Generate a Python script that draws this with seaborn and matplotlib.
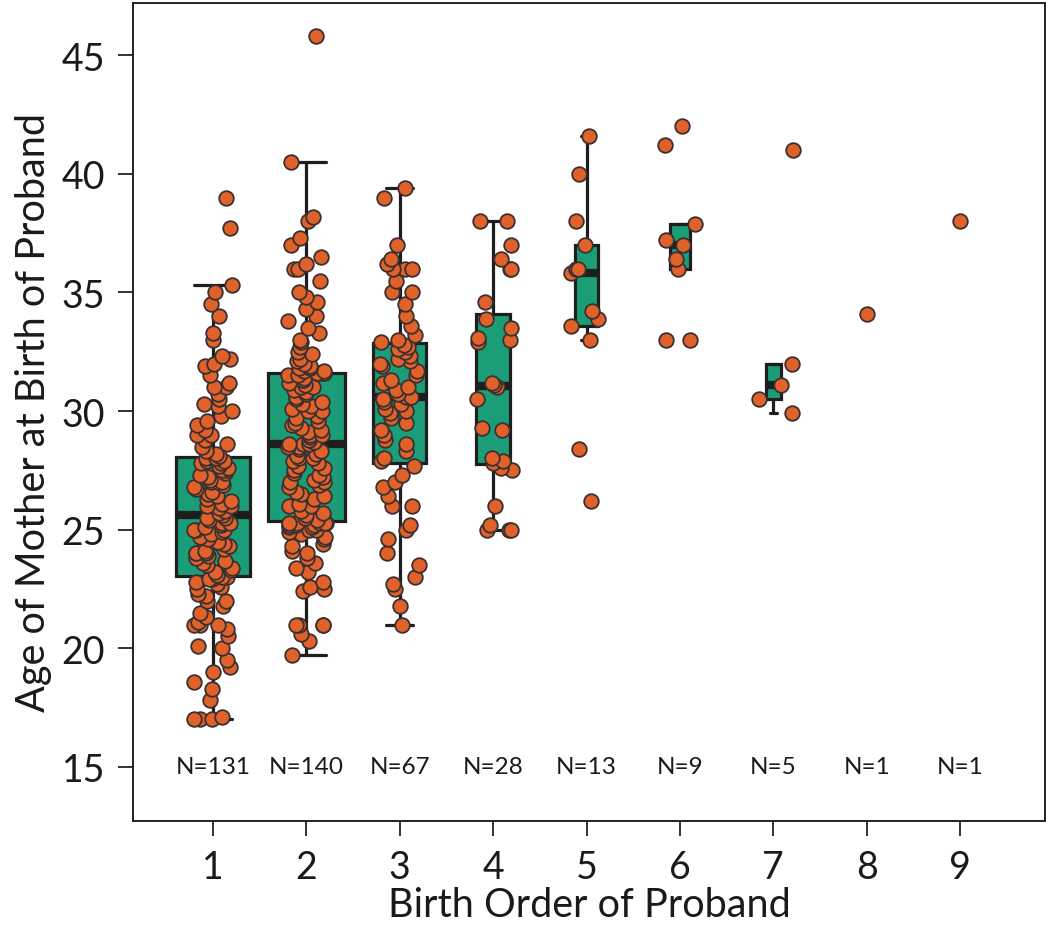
import numpy as np
import pandas as pd
import matplotlib
matplotlib.use("Agg")
import matplotlib.pyplot as plt
import seaborn as sns

# ---------------- data ----------------
categories = ["1", "2", "3", "4", "5", "6", "7", "8", "9"]
n_labels = ["N=131", "N=140", "N=67", "N=28", "N=13", "N=9", "N=5", "N=1", "N=1"]

ages_1 = [17.0, 17.0, 17.0, 17.1, 17.8, 18.3, 18.6, 19.0, 19.2, 19.5,
          20.0, 20.1, 20.5, 20.8, 21.0, 21.0, 21.0, 21.1, 21.3, 21.5,
          21.8, 22.0, 22.0, 22.2, 22.3, 22.5, 22.6, 22.7, 22.8, 22.9,
          22.9, 23.0, 23.0,
          23.1, 23.2, 23.3, 23.4, 23.5, 23.6, 23.7, 23.8, 23.9, 24.0,
          24.0, 24.0, 24.1, 24.2, 24.3, 24.4, 24.5, 24.5, 24.6, 24.7,
          24.8, 24.9, 25.0, 25.0, 25.0, 25.1, 25.2, 25.3, 25.3, 25.4,
          25.5, 25.5,
          25.6,
          25.7, 25.8, 25.9, 26.0, 26.0, 26.1, 26.2, 26.3, 26.4, 26.5,
          26.6, 26.7, 26.8, 26.9, 27.0, 27.0, 27.0, 27.1, 27.2, 27.3,
          27.4, 27.5, 27.5, 27.6, 27.7, 27.8, 27.8, 27.9, 27.9, 28.0,
          28.0, 28.0,
          28.1, 28.2, 28.3, 28.5, 28.6, 28.8, 29.0, 29.0, 29.2, 29.4,
          29.6, 29.8, 30.0, 30.2, 30.3, 30.5, 30.7, 31.0, 31.0, 31.2,
          31.5, 31.9, 32.0, 32.2, 32.3, 33.0, 33.3, 34.0, 34.5, 35.0,
          35.3, 37.7, 39.0]

ages_2 = [19.7, 20.3, 20.6, 21.0, 21.0, 21.0, 21.0, 22.4, 22.5, 22.6,
          22.8, 23.2, 23.4, 23.6, 23.8, 24.0, 24.1, 24.3, 24.4, 24.6,
          24.7, 24.8, 24.9, 25.0, 25.0, 25.1, 25.1, 25.2, 25.2, 25.2,
          25.3, 25.3, 25.3, 25.3, 25.3,
          25.4, 25.5, 25.6, 25.7, 25.8, 26.0, 26.0, 26.1, 26.3, 26.4,
          26.5, 26.6, 26.8, 26.9, 27.0, 27.0, 27.1, 27.2, 27.3, 27.4,
          27.5, 27.6, 27.7, 27.8, 27.9, 28.0, 28.0, 28.1, 28.2, 28.3,
          28.4, 28.5, 28.5, 28.6, 28.6,
          28.6, 28.7, 28.8, 28.9, 29.0, 29.0, 29.1, 29.2, 29.3, 29.4,
          29.5, 29.6, 29.7, 29.8, 30.0, 30.0, 30.1, 30.2, 30.3, 30.4,
          30.5, 30.6, 30.7, 30.8, 30.9, 31.0, 31.0, 31.1, 31.2, 31.3,
          31.3, 31.4, 31.5, 31.5, 31.6,
          31.6, 31.6, 31.6, 31.7, 31.7, 31.8, 31.8, 31.9, 32.0, 32.1,
          32.2, 32.4, 32.5, 32.7, 32.9, 33.0, 33.3, 33.5, 33.8, 34.0,
          34.3, 34.6, 34.8, 35.0, 35.5, 36.0, 36.0, 36.2, 36.5, 37.0,
          37.3, 38.0, 38.2, 40.5, 45.8]

ages_3 = [21.0, 21.8, 22.5, 22.7, 23.0, 23.5, 24.0, 24.6, 25.0, 25.2,
          26.0, 26.0, 26.4, 26.8, 27.0, 27.3, 27.7,
          27.9, 28.0, 28.3, 28.6, 28.8, 29.0, 29.2, 29.5, 29.7, 29.9,
          30.0, 30.1, 30.3, 30.4, 30.5, 30.6,
          30.6,
          30.7, 30.9, 31.0, 31.2, 31.3, 31.5, 31.7, 31.9, 32.0, 32.1,
          32.2, 32.3, 32.5, 32.6, 32.7, 32.8,
          32.9, 33.0, 33.2, 33.6, 34.0, 34.5, 35.0, 35.0, 35.5, 36.0,
          36.0, 36.0, 36.2, 36.4, 37.0, 39.0, 39.4]

ages_4 = [25.0, 25.0, 25.0, 25.2, 26.0, 27.5, 27.6, 27.8, 27.9, 28.0,
          29.2, 29.3, 30.5, 31.0, 31.1, 31.2, 32.9, 33.0, 33.1, 33.5,
          33.9, 34.6, 36.0, 36.0, 36.4, 37.0, 38.0, 38.0]

ages_5 = [26.2, 28.4, 33.0, 33.6, 33.9, 34.2, 35.8, 36.0, 36.0, 37.0,
          38.0, 40.0, 41.6]

ages_6 = [33.0, 33.0, 36.0, 36.4, 37.0, 37.2, 37.9, 41.2, 42.0]

ages_7 = [29.9, 30.5, 31.1, 32.0, 41.0]

ages_8 = [34.1]

ages_9 = [38.0]

groups = [ages_1, ages_2, ages_3, ages_4, ages_5, ages_6, ages_7, ages_8, ages_9]

y_ticks = [15, 20, 25, 30, 35, 40, 45]

# ---------------- style ----------------
sns.set_theme(style="white")
plt.rcParams["font.family"] = ["Lato", "DejaVu Sans"]

teal = "#1b9e77"
orange = "#e0622a"
dark = "#1e1e1e"

rows = []
for cat, vals in zip(categories, groups):
    for v in vals:
        rows.append({"order": cat, "age": v})
df = pd.DataFrame(rows)

fig = plt.figure(figsize=(10.5, 9.28), dpi=100)
ax = fig.add_axes([133 / 1050, 1 - 822 / 928, (1045 - 133) / 1050, (822 - 4) / 928])

n_max = max(len(g) for g in groups)
for cat, vals in zip(categories, groups):
    sub = df[df["order"] == cat]
    w = 0.825 * np.sqrt(len(vals) / n_max)
    sns.boxplot(data=sub, x="order", y="age", order=categories, width=w,
                color=teal, saturation=1, linecolor=dark, linewidth=2.3,
                showfliers=False,
                medianprops={"linewidth": 6, "color": dark},
                ax=ax)

np.random.seed(11)
sns.stripplot(data=df, x="order", y="age", order=categories, color=orange,
              size=10.5, edgecolor="#3a3030", linewidth=1.3, jitter=0.21,
              ax=ax, zorder=4)

for i, lab in enumerate(n_labels):
    ax.text(i, 15, lab, ha="center", va="center", fontsize=17.5, color="#1a1a1a")

ax.set_xlim(-0.857, 8.91)
ax.set_ylim(12.72, 47.2)
ax.set_yticks(y_ticks)
ax.set_yticklabels([str(t) for t in y_ticks])

for s in ax.spines.values():
    s.set_visible(True)
    s.set_color("#222222")
    s.set_linewidth(1.4)

ax.tick_params(axis="both", which="major", bottom=True, left=True,
               direction="out", length=11, width=1.3, color="#222222",
               labelsize=27, pad=9, labelcolor="#1a1a1a")

ax.set_xlabel("Birth Order of Proband", fontsize=28.5, color="#1a1a1a", labelpad=1)
ax.set_ylabel("Age of Mother at Birth of Proband", fontsize=28.5, color="#1a1a1a", labelpad=7)

fig.savefig("out.png", dpi=100, facecolor="white")
